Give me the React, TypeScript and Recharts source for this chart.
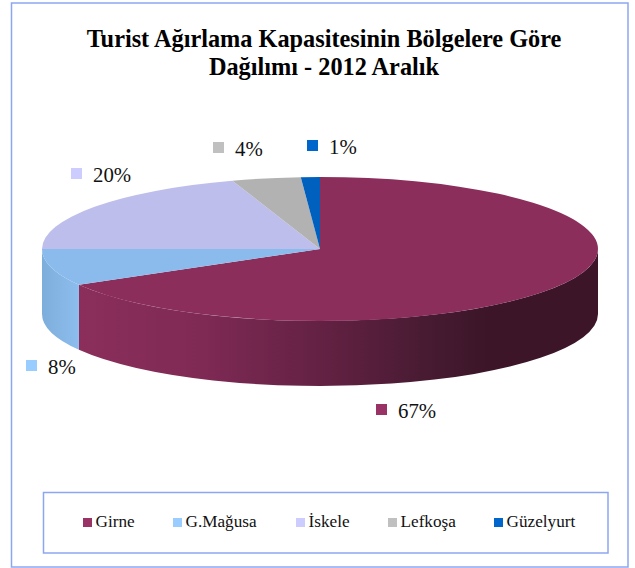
import React from 'react';
import { PieChart, Pie, Cell, Legend } from 'recharts';

const regions = ['Girne', 'G.Mağusa', 'İskele', 'Lefkoşa', 'Güzelyurt'];
const shares = [66.7, 8.3, 19.9, 4.0, 1.1];
const titleLines = ['Turist Ağırlama Kapasitesinin Bölgelere Göre', 'Dağılımı - 2012 Aralık'];

const legendColors = ['#993366', '#99CCFF', '#CCCCFF', '#C0C0C0', '#0066CC'];
const topColors = ['#8C2E5C', '#8ABBEC', '#BEBEEC', '#B2B2B2', '#0060BE'];

const tableData = regions.map((name, i) => ({ name, value: shares[i] }));

// pie geometry
const CX = 320;
const CY = 249;
const RX = 278;
const RY = 72;
const DEPTH = 65;

// x of swatch, y of swatch for each percent label
const labelSpots = [
  { x: 376, y: 404 },
  { x: 26, y: 360 },
  { x: 71, y: 168 },
  { x: 213, y: 142 },
  { x: 307, y: 140 },
];
const legendSwatchX = [83, 173, 296, 388, 494];

const px = (t: number) => CX + RX * Math.sin((t * Math.PI) / 180);
const py = (t: number) => CY - RY * Math.cos((t * Math.PI) / 180);

const wallGradients: Record<number, [number, string][]> = {
  0: [
    [79, '#8B2E5C'],
    [200, '#7F2A55'],
    [340, '#5F2040'],
    [440, '#441A30'],
    [490, '#3C1528'],
    [598, '#3C1528'],
  ],
  1: [
    [42, '#7DAEDB'],
    [79, '#8CBDED'],
  ],
};

// draws one slice as an elliptical top face plus its front wall
const Slice3D = (props: any) => {
  const { startAngle, endAngle, index } = props;
  const t0 = 90 - startAngle;
  const t1 = 90 - endAngle;
  const large = t1 - t0 > 180 ? 1 : 0;
  const top = `M${CX},${CY} L${px(t0)},${py(t0)} A${RX},${RY} 0 ${large} 1 ${px(t1)},${py(t1)} Z`;
  const w0 = Math.max(t0, 90);
  const w1 = Math.min(t1, 270);
  const hasWall = w1 > w0;
  const wall = `M${px(w0)},${py(w0)} A${RX},${RY} 0 0 1 ${px(w1)},${py(w1)} L${px(w1)},${py(w1) + DEPTH} A${RX},${RY} 0 0 0 ${px(w0)},${py(w0) + DEPTH} Z`;
  const stops = wallGradients[index];
  const id = `wall-${index}`;
  return (
    <g>
      {hasWall && stops && (
        <>
          <defs>
            <linearGradient id={id} gradientUnits="userSpaceOnUse" x1={stops[0][0]} x2={stops[stops.length - 1][0]} y1={0} y2={0}>
              {stops.map(([x, c]) => (
                <stop key={x} offset={(x - stops[0][0]) / (stops[stops.length - 1][0] - stops[0][0])} stopColor={c} />
              ))}
            </linearGradient>
          </defs>
          <path d={wall} fill={`url(#${id})`} />
        </>
      )}
      <path d={top} fill={topColors[index]} />
    </g>
  );
};

const renderLabel = (props: any) => {
  const { index, percent } = props;
  const spot = labelSpots[index];
  return (
    <g key={index}>
      <rect x={spot.x} y={spot.y} width={11} height={11} fill={legendColors[index]} />
      <text x={spot.x + 22} y={spot.y + 14} fontSize={20.8} fontFamily="Liberation Serif" fill="#111">
        {Math.round(percent * 100)}%
      </text>
    </g>
  );
};

const renderLegend = (props: any) => (
  <div style={{ position: 'relative', width: 635, height: 568 }}>
    {(props.payload || []).map((item: any, i: number) => (
      <React.Fragment key={item.value}>
        <span style={{ position: 'absolute', left: legendSwatchX[i], top: 518, width: 9, height: 9, background: item.color }} />
        <span style={{ position: 'absolute', left: legendSwatchX[i] + 12.5, top: 512, fontSize: 17.2, lineHeight: '20px', color: '#111', fontFamily: 'Liberation Serif', whiteSpace: 'nowrap' }}>
          {item.value}
        </span>
      </React.Fragment>
    ))}
  </div>
);

export default function App() {
  return (
    <div style={{ position: 'absolute', left: 0, top: 0, width: 635, height: 568, background: '#fff' }}>
      <PieChart width={635} height={568} margin={{ top: 0, right: 0, bottom: 0, left: 0 }}>
        <rect x={11.5} y={3} width={616.5} height={564} fill="#fff" stroke="#8DA6F2" strokeWidth={1.5} />
        <rect x={43.5} y={492.5} width={564.5} height={60.5} fill="#fff" stroke="#8DA6F2" strokeWidth={1.5} />
        {titleLines.map((line, i) => (
          <text key={line} x={324} y={47 + i * 28} textAnchor="middle" fontSize={24.3} fontWeight="bold" fontFamily="Liberation Serif" fill="#000">
            {line}
          </text>
        ))}
        <Pie
          data={tableData}
          dataKey="value"
          nameKey="name"
          cx={CX}
          cy={CY}
          outerRadius={RX}
          startAngle={90}
          endAngle={-270}
          stroke="none"
          shape={Slice3D}
          label={renderLabel}
          labelLine={false}
          isAnimationActive={false}
        >
          {tableData.map((entry, i) => (
            <Cell key={entry.name} fill={legendColors[i]} />
          ))}
        </Pie>
        <Legend itemSorter={null} content={renderLegend} wrapperStyle={{ position: 'absolute', left: 0, top: 0, width: 635, height: 568, pointerEvents: 'none' }} />
      </PieChart>
    </div>
  );
}
